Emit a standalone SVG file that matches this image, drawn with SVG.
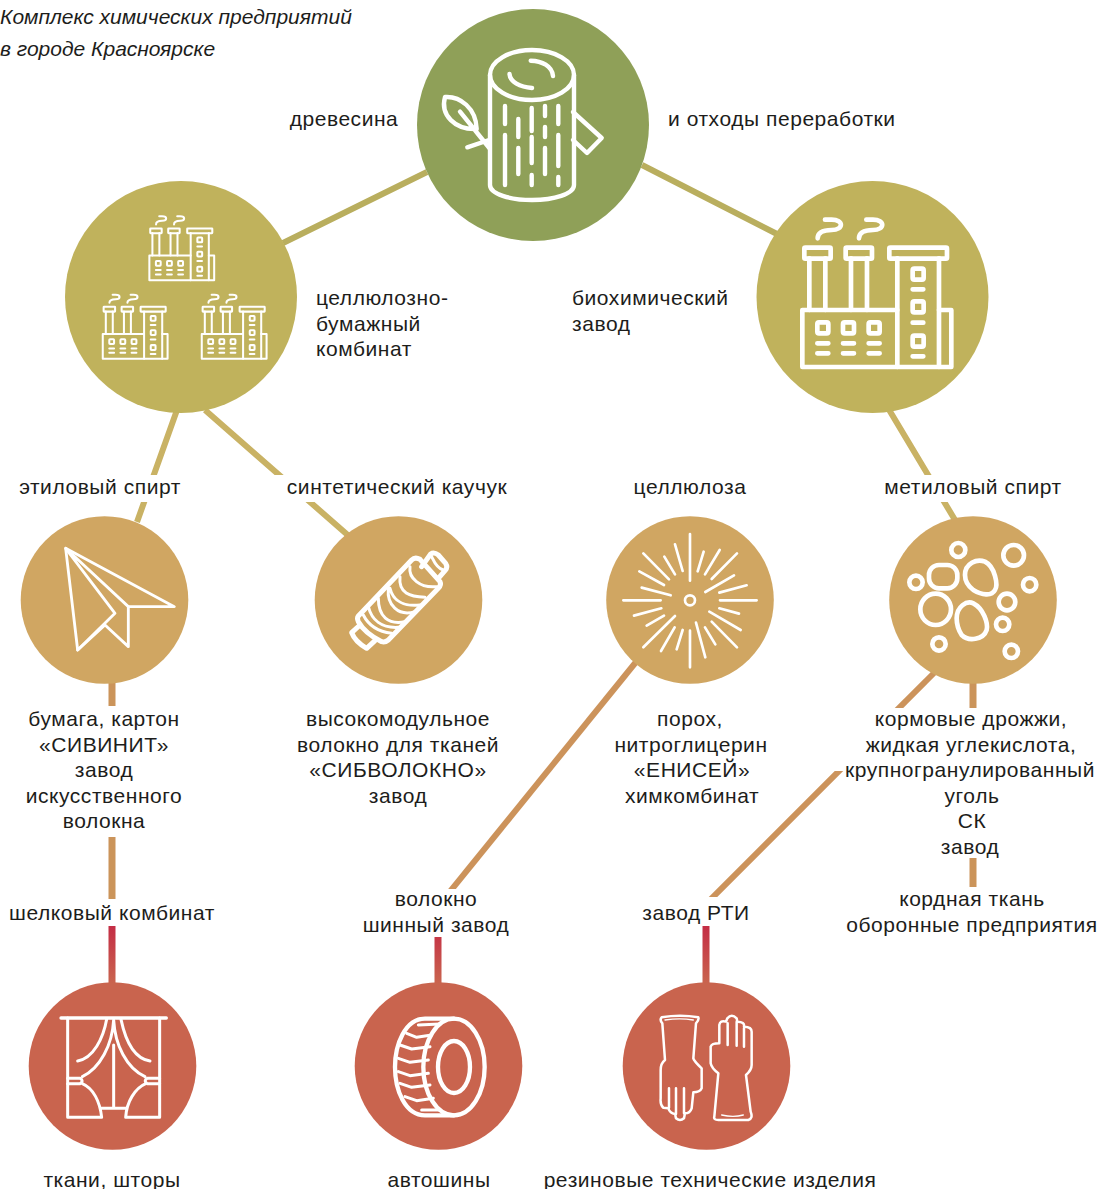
<svg xmlns="http://www.w3.org/2000/svg" xmlns:xlink="http://www.w3.org/1999/xlink" width="1099" height="1189" viewBox="0 0 1099 1189">
<style>
text{font-family:"Liberation Sans",Arial,sans-serif;font-size:21px;fill:#1d1d1b;letter-spacing:.55px}
.m{text-anchor:middle}
.t{font-style:italic;letter-spacing:0}
.c{fill:none;stroke-width:6}
.ol{stroke:#b9ae5e}.ol2{stroke:#c9b264}.tn{stroke:#cb945a;stroke-width:7}.dg{stroke:#cc935b}
.rd{stroke:url(#rg);stroke-width:7}
.i{fill:none;stroke:#fff;stroke-linecap:round;stroke-linejoin:round}
.gr{fill:#8fa058}.ov{fill:#c0b25c}.ta{fill:#d0a662}.re{fill:#c9644e}
</style>
<defs>
<linearGradient id="rg" gradientUnits="userSpaceOnUse" x1="0" y1="926" x2="0" y2="983"><stop offset="0" stop-color="#c42d45"/><stop offset="1" stop-color="#c9644e"/></linearGradient>
<clipPath id="c1"><rect x="0" y="400" width="1099" height="75"/><rect x="0" y="502" width="1099" height="60"/></clipPath>
<clipPath id="c2"><rect x="0" y="650" width="1099" height="239"/></clipPath>
<clipPath id="c3"><rect x="800" y="660" width="299" height="48"/></clipPath>
<clipPath id="c4"><rect x="650" y="771" width="449" height="126"/></clipPath>
<g id="factory" class="i" stroke-width="14">
<path d="M442,390H157V561H604V390H567"/>
<path d="M442,235V561M567,235V561M178,235V390M226,235V390M303,235V390M351,235V390"/>
<rect x="163" y="203" width="79" height="33" rx="3"/><rect x="287" y="203" width="79" height="33" rx="3"/><rect x="418" y="203" width="173" height="33" rx="3"/>
<rect x="202" y="427" width="33" height="33" rx="5"/><rect x="279" y="427" width="33" height="33" rx="5"/><rect x="356" y="427" width="33" height="33" rx="5"/>
<path d="M202,490H235M279,490H312M356,490H389M202,520H235M279,520H312M356,520H389"/>
<rect x="488" y="266" width="33" height="33" rx="5"/><rect x="488" y="364" width="33" height="33" rx="5"/><rect x="488" y="467" width="33" height="33" rx="5"/>
<path d="M488,328H520M488,428H520M488,529H520"/>
<path d="M203,175C203,155 220,150 245,150C282,150 282,119 245,119H225"/>
<path d="M327,175C327,155 344,150 369,150C406,150 406,119 369,119H349"/>
</g>
</defs>

<g id="connectors">
<path class="c ol" d="M427,172L283,243M642,165L777,234"/>
<g clip-path="url(#c1)"><path class="c ol2" d="M177,410L137,522M205,410L350,537M888,408L958,525"/></g>
<path class="c tn" d="M112,683V706M112,837V899M973,683V708M973,858V887"/>
<path class="c dg" clip-path="url(#c2)" d="M636,662L448,894"/>
<path class="c dg" clip-path="url(#c3)" d="M936,671L890,717"/>
<path class="c dg" clip-path="url(#c4)" d="M845,765L705,905"/>
<path class="c rd" d="M112,926V983M438,937V983M706,926V983"/>
</g>

<text class="t" x="0" y="24">Комплекс химических предприятий</text>
<text class="t" x="0" y="56">в городе Красноярске</text>

<g id="wood">
<circle class="gr" cx="533" cy="125" r="116"/>
<g class="i" stroke-width="4.4">
<ellipse cx="532" cy="75" rx="42" ry="25"/>
<path d="M490,75V185C490,194 510,200 532,200C554,200 574,194 574,185V75"/>
<path d="M509.5,74C510,82 520,87 532,88M530.7,60.7C542,61 552,66 553,76"/>
<path d="M505,106V124M505,135V185M518.3,119V137M518.3,148V174M531.7,108V131M531.7,137V163M531.7,175V185M545,106V116M545,127V137M545,148V174M558.3,106V124M558.3,135V166M558.3,177V185"/>
<path d="M573,112L601.7,138L587,153L573,140"/>
<path d="M445,97C460,96 476,108 476.7,129C455,130 440,115 445,97ZM460,111.7L489.3,148M467.3,147.3L489,140"/>
</g>
</g>
<text class="m" x="344" y="126">древесина</text>
<text x="668" y="126">и отходы переработки</text>

<g id="pulp-mill">
<circle class="ov" cx="181" cy="297" r="116"/>
<use xlink:href="#factory" href="#factory" transform="translate(126.6,199) scale(.145)"/>
<use xlink:href="#factory" href="#factory" transform="translate(80,277.4) scale(.145)"/>
<use xlink:href="#factory" href="#factory" transform="translate(179,277.4) scale(.145)"/>
</g>
<text x="316" y="305">целлюлозно-</text><text x="316" y="331">бумажный</text><text x="316" y="356">комбинат</text>

<g id="biochem">
<circle class="ov" cx="872.5" cy="297" r="116"/>
<use xlink:href="#factory" href="#factory" transform="translate(750,180) scale(.3333)"/>
</g>
<text x="572" y="305">биохимический</text><text x="572" y="331">завод</text>

<text class="m" x="100" y="494">этиловый спирт</text>
<text class="m" x="397" y="494">синтетический каучук</text>
<text class="m" x="690" y="494">целлюлоза</text>
<text class="m" x="973" y="494">метиловый спирт</text>

<g id="paper">
<circle class="ta" cx="104.5" cy="600" r="83.8"/>
<g class="i" stroke-width="8.5" transform="translate(15,510) scale(.3333)">
<path d="M152,115L478,290H340V410L270,345L188,420Z"/>
<path d="M152,115L300,310L188,420M152,115L340,290"/>
</g>
</g>
<g id="rubber">
<circle class="ta" cx="398.5" cy="600" r="83.8"/>
<g class="i" stroke-width="15" transform="translate(310,510) scale(.3333)">
<path d="M145,318L305,150Q315,140 330,148L390,215Q395,225 385,235L235,390Q225,398 215,395Q165,370 145,335Q140,325 145,318Z"/>
<path d="M335,170L362,132Q372,125 385,135L407,160Q415,172 405,182L385,205"/>
<path d="M150,345L125,368Q135,395 170,415L195,392"/>
<g stroke-width="9"><path d="M160,315C175,345 205,365 245,370M175,290C185,330 215,355 265,352M205,265C205,320 235,345 285,335M235,235C230,285 265,320 315,305M270,200C265,250 300,260 345,262M300,170C295,205 330,235 380,230M365,140C370,150 380,175 400,180M240,235C250,275 285,290 330,285"/></g>
</g>
</g>
<g id="cellulose">
<circle class="ta" cx="690" cy="600" r="83.8"/>
<g class="i" stroke-width="8" transform="translate(600,510) scale(.3333)">
<circle cx="270" cy="271" r="15"/>
<path d="M270,72V212M225,103L248,183M193,140L225,193M130,130L207,208M118,184L192,225M125,233L212,256M70,271H182M102,317L184,295M140,347L192,317M130,412L225,318M183,423L224,352M230,418L248,360M270,362V472M288,338L316,442M315,352L346,403M335,335L411,412M328,305L422,360M358,295L417,311M360,271H470M358,248L440,226M316,246L402,196M335,207L411,130M315,193L359,120M293,184L311,125"/>
</g>
</g>
<g id="yeast">
<circle class="ta" cx="973" cy="600" r="83.8"/>
<g class="i" stroke-width="14" transform="translate(885,510) scale(.3333)">
<circle cx="220" cy="120" r="21"/><circle cx="93" cy="217" r="20"/><circle cx="386" cy="136" r="31"/><circle cx="434" cy="224" r="20"/><circle cx="366" cy="276" r="25"/><circle cx="353" cy="343" r="20"/><circle cx="379" cy="424" r="20"/><circle cx="162" cy="402" r="20"/>
<rect x="132" y="165" width="85" height="70" rx="30"/>
<path d="M240,195C240,160 275,145 300,155C330,170 340,225 330,240C320,260 290,255 265,240C245,225 240,210 240,195Z"/>
<ellipse cx="152" cy="298" rx="46" ry="47"/>
<path d="M215,325C215,290 245,270 265,280C295,295 310,340 305,360C295,390 250,395 230,375C220,360 215,345 215,325Z"/>
</g>
</g>

<g>
<text class="m" x="104" y="726">бумага, картон</text><text class="m" x="104" y="752">«СИВИНИТ»</text><text class="m" x="104" y="777">завод</text><text class="m" x="104" y="803">искусственного</text><text class="m" x="104" y="828">волокна</text>
<text class="m" x="398" y="726">высокомодульное</text><text class="m" x="398" y="752">волокно для тканей</text><text class="m" x="398" y="777">«СИБВОЛОКНО»</text><text class="m" x="398" y="803">завод</text>
<text class="m" x="690" y="726">порох,</text><text class="m" x="691" y="752">нитроглицерин</text><text class="m" x="692" y="777">«ЕНИСЕЙ»</text><text class="m" x="692" y="803">химкомбинат</text>
<text class="m" x="971" y="726">кормовые дрожжи,</text><text class="m" x="971" y="752">жидкая углекислота,</text><text class="m" x="970" y="777">крупногранулированный</text><text class="m" x="972" y="803">уголь</text><text class="m" x="972" y="828">СК</text><text class="m" x="970" y="854">завод</text>
<text class="m" x="112" y="920">шелковый комбинат</text>
<text class="m" x="436" y="906">волокно</text><text class="m" x="436" y="932">шинный завод</text>
<text class="m" x="696" y="920">завод РТИ</text>
<text class="m" x="972" y="906">кордная ткань</text><text class="m" x="972" y="932">оборонные предприятия</text>
</g>

<g id="fabric">
<circle class="re" cx="112.5" cy="1066" r="83.8"/>
<g class="i" stroke-width="9" transform="translate(25,975) scale(.3333)">
<path stroke-width="10" d="M108,129H424"/>
<path d="M128,129V427H230C225,380 205,340 172,326M404,129V427H302C305,380 330,340 362,326M230,400H302M266,210V400"/>
<path d="M245,133C235,190 205,250 158,258M288,133C300,190 325,250 375,258M266,135C262,210 225,280 172,305M266,135C270,210 305,280 360,305"/>
<path d="M128,310H165Q178,318 165,326H128M404,310H367Q354,318 367,326H404"/>
</g>
</g>
<g id="tires">
<circle class="re" cx="438.5" cy="1066" r="83.8"/>
<g class="i" stroke-width="13" transform="translate(350,975) scale(.3333)">
<ellipse cx="312" cy="276" rx="92" ry="145"/>
<ellipse cx="312" cy="276" rx="48" ry="78"/>
<path d="M312,131H225C165,131 135,210 135,276C135,345 165,421 225,421H312"/>
<g stroke-width="9"><path d="M205,150L270,147M170,175L200,187L245,180M150,210L185,222L240,215M145,250L180,262L235,255M145,290L180,302L235,295M150,325L185,337L240,330M165,365L200,377L250,370M215,405L265,405"/></g>
</g>
</g>
<g id="gloves">
<circle class="re" cx="706.5" cy="1066" r="83.8"/>
<g class="i" stroke-width="7.5" transform="translate(620,975) scale(.3333)">
<path d="M125,127Q180,118 235,127Q238,135 228,145L220,250Q222,258 245,280V340Q240,352 220,352L215,400Q210,415 195,415L192,430Q180,440 168,430L165,417Q150,415 145,400L130,398Q120,390 122,370V285Q122,265 135,255L127,145Q118,135 125,127Z"/>
<path d="M147,340V398M168,340V417M192,340V415"/>
<path d="M135,135Q180,128 220,135" stroke-width="4"/>
<path d="M283,425L295,295Q275,280 272,265V215Q275,205 298,205V150Q300,135 318,140L322,130Q335,115 350,130L352,140Q375,140 372,155Q395,155 395,170V270Q395,285 378,300L392,410Q400,430 385,435H295Q280,435 283,425Z"/>
<path d="M323,145V210M350,140V212M372,160V215"/>
<path d="M305,420Q340,428 370,420" stroke-width="4"/>
</g>
</g>
<text class="m" x="112" y="1187">ткани, шторы</text>
<text class="m" x="439" y="1187">автошины</text>
<text class="m" x="710" y="1187">резиновые технические изделия</text>
</svg>
